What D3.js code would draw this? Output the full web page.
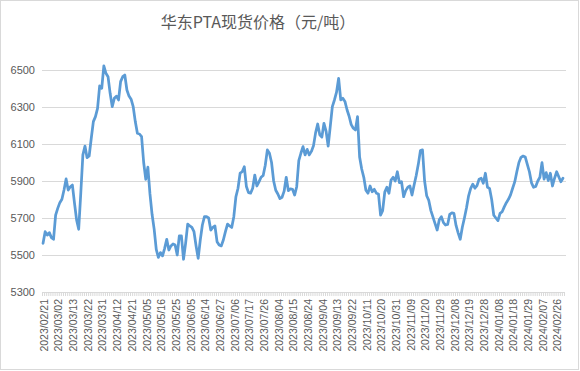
<!DOCTYPE html>
<html>
<head>
<meta charset="utf-8">
<script src="https://cdn.jsdelivr.net/npm/d3@7"></script>
<style>
  body { margin: 0; background: #fff; }
  .tick text { fill: #595959; }
</style>
</head>
<body>
<script>
// chart data
let title = "华东PTA现货价格（元/吨）";

let tickLabels = [
    "2023/02/21", "2023/03/02", "2023/03/13", "2023/03/22", "2023/03/31", "2023/04/12",
    "2023/04/21", "2023/05/05", "2023/05/16", "2023/05/25", "2023/06/05", "2023/06/14",
    "2023/06/27", "2023/07/06", "2023/07/17", "2023/07/26", "2023/08/04", "2023/08/15",
    "2023/08/24", "2023/09/04", "2023/09/13", "2023/09/22", "2023/10/11", "2023/10/20",
    "2023/10/31", "2023/11/09", "2023/11/20", "2023/11/29", "2023/12/08", "2023/12/19",
    "2023/12/28", "2024/01/08", "2024/01/18", "2024/01/29", "2024/02/07", "2024/02/26"
];
let labelStep = 7;

let prices = [
    5563, 5626, 5608, 5621, 5594, 5585, 5716, 5752, 5783, 5801,
    5851, 5911, 5851, 5869, 5878, 5780, 5690, 5639, 5834, 6041,
    6089, 6026, 6035, 6131, 6221, 6248, 6293, 6414, 6401, 6522,
    6482, 6464, 6374, 6302, 6347, 6359, 6338, 6437, 6464, 6473,
    6392, 6359, 6342, 6302, 6221, 6158, 6154, 6140, 6000, 5909,
    5975, 5830, 5720, 5640, 5530, 5487, 5513, 5495, 5536, 5585,
    5527, 5549, 5560, 5554, 5500, 5603, 5603, 5477, 5563, 5667,
    5657, 5649, 5626, 5549, 5482, 5581, 5662, 5707, 5707, 5700,
    5635, 5649, 5657, 5572, 5554, 5549, 5581, 5626, 5667, 5657,
    5649, 5707, 5815, 5861, 5942, 5950, 5977, 5870, 5837, 5834,
    5861, 5932, 5873, 5895, 5920, 5930, 5985, 6068, 6050, 6000,
    5900, 5850, 5830, 5805, 5812, 5845, 5920, 5848, 5858, 5855,
    5824, 5869, 6010, 6050, 6086, 6041, 6071, 6041, 6060, 6090,
    6160, 6208, 6150, 6137, 6212, 6170, 6089, 6194, 6302, 6338,
    6380, 6455, 6338, 6347, 6330, 6285, 6250, 6205, 6185, 6176,
    6248, 6030, 5965, 5920, 5850, 5834, 5873, 5842, 5855, 5834,
    5830, 5716, 5740, 5840, 5866, 5834, 5905, 5920, 5900, 5950,
    5891, 5896, 5815, 5848, 5866, 5873, 5824, 5878, 5930, 5990,
    6064, 6068, 5900, 5820, 5795, 5740, 5705, 5670, 5635, 5690,
    5707, 5675, 5662, 5665, 5720, 5728, 5725, 5660, 5620, 5585,
    5650, 5700, 5755, 5820, 5860, 5883, 5861, 5875, 5910, 5915,
    5888, 5942, 5866, 5860, 5800, 5715, 5700, 5686, 5725, 5734,
    5760, 5783, 5801, 5825, 5861, 5895, 5950, 6000, 6028, 6035,
    6030, 5990, 5950, 5890, 5866, 5870, 5900, 5920, 5999, 5910,
    5945, 5902, 5942, 5873, 5915, 5950, 5923, 5896, 5915
];

let yTicks = [5300, 5500, 5700, 5900, 6100, 6300, 6500];

// svg params
let svgWidth = 580;
let svgHeight = 371;
let plot = { left: 42, right: 564, top: 70, bottom: 292 };

let svg = d3.select("body")
    .append("svg")
    .attr("width", svgWidth)
    .attr("height", svgHeight)
    .style("font-family", "'Liberation Sans', Arial, sans-serif");

// chart border
svg.append("rect")
    .attr("x", 0.5)
    .attr("y", 0.5)
    .attr("width", svgWidth - 2)
    .attr("height", svgHeight - 2)
    .attr("fill", "#fff")
    .attr("stroke", "#d9d9d9");

// scales
let idx = d3.range(prices.length);
let xBand = d3.scaleBand()
    .domain(idx)
    .range([plot.left, plot.right]);
let xEdge = d3.scaleLinear()
    .domain([0, prices.length])
    .range([plot.left, plot.right]);
let yScale = d3.scaleLinear()
    .domain([5300, 6500])
    .range([plot.bottom, plot.top]);

// gridlines
svg.append("g")
    .attr("transform", `translate(${plot.left}, 0)`)
    .call(d3.axisLeft(yScale).tickValues(yTicks.slice(1)).tickSize(-(plot.right - plot.left + 2)).tickFormat(""))
    .call(g => g.select(".domain").remove())
    .call(g => g.selectAll("line").attr("stroke", "#d9d9d9"));

// y labels
svg.append("g")
    .attr("transform", `translate(${plot.left}, 0)`)
    .call(d3.axisLeft(yScale).tickValues(yTicks).tickSize(0).tickPadding(7).tickFormat(d3.format("d")))
    .call(g => g.select(".domain").remove())
    .call(g => g.selectAll("text").attr("font-size", 11));

// category tick marks
svg.append("g")
    .attr("transform", `translate(0, ${plot.bottom})`)
    .call(d3.axisBottom(xEdge).tickValues(d3.range(prices.length + 1)).tickSize(4).tickSizeOuter(0).tickFormat(""))
    .call(g => g.selectAll("line, path").attr("stroke", "#d9d9d9"));

// date labels every 7 days
svg.append("g")
    .attr("transform", `translate(${xBand.bandwidth() / 2}, ${plot.bottom})`)
    .call(d3.axisBottom(xBand)
        .tickValues(idx.filter(i => i % labelStep === 0))
        .tickSize(0)
        .tickFormat(i => tickLabels[i / labelStep]))
    .call(g => g.select(".domain").remove())
    .call(g => g.selectAll("text")
        .attr("font-size", 10.5)
        .attr("transform", "rotate(-90)")
        .attr("text-anchor", "end")
        .attr("x", -7)
        .attr("y", 0)
        .attr("dy", "0.35em"));

// price line
let line = d3.line()
    .x((d, i) => xBand(i) + xBand.bandwidth() / 2)
    .y(d => yScale(d));

svg.append("path")
    .datum(prices)
    .attr("fill", "none")
    .attr("stroke", "#5b9bd5")
    .attr("stroke-width", 2.75)
    .attr("stroke-linejoin", "round")
    .attr("stroke-linecap", "round")
    .attr("d", line);

// title
svg.append("text")
    .attr("x", 258)
    .attr("y", 28)
    .attr("text-anchor", "middle")
    .attr("font-family", "'Noto Sans CJK SC', sans-serif")
    .attr("font-size", 16)
    .attr("fill", "#595959")
    .text(title);
</script>
</body>
</html>
